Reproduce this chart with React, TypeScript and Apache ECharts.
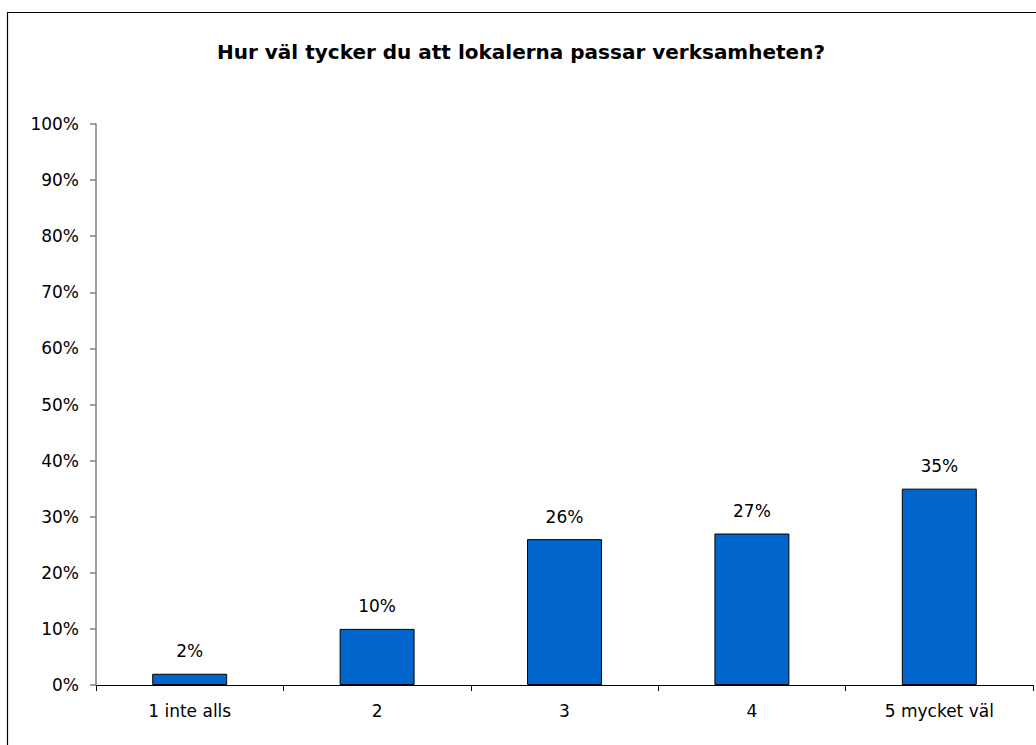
import React, { useEffect, useRef } from "react";
import * as echarts from "echarts";

const title = "Hur väl tycker du att lokalerna passar verksamheten?";
const categories = ["1 inte alls", "2", "3", "4", "5 mycket väl"];
const values = [2, 10, 26, 27, 35];
const yTicks = [0, 10, 20, 30, 40, 50, 60, 70, 80, 90, 100];

export default function App() {
  const ref = useRef<HTMLDivElement>(null);
  useEffect(() => {
    document.body.style.margin = "0";
    const chart = echarts.init(ref.current!, undefined, { renderer: "svg" });
    const font = "DejaVu Sans, sans-serif";
    chart.setOption({
      animation: false,
      backgroundColor: "#ffffff",
      textStyle: { fontFamily: font },
      title: {
        text: title,
        left: 516,
        top: 37,
        textAlign: "center",
        textStyle: { fontFamily: font, fontSize: 20, fontWeight: "bold", color: "#000" },
      },
      graphic: [
        {
          type: "rect",
          shape: { x: 7.5, y: 12.5, width: 1100, height: 800 },
          style: { fill: "none", stroke: "#000", lineWidth: 1.2 },
          silent: true,
        },
      ],
      grid: { left: 96, top: 124, right: 3, bottom: 60, containLabel: false },
      xAxis: {
        type: "category",
        data: categories,
        boundaryGap: true,
        axisLine: { lineStyle: { color: "#000", width: 1 } },
        axisTick: { show: true, inside: false, length: 6, lineStyle: { color: "#000" } },
        axisLabel: { color: "#000", fontSize: 17, margin: 17, fontFamily: font },
      },
      yAxis: {
        type: "value",
        min: yTicks[0],
        max: yTicks[yTicks.length - 1],
        interval: 10,
        axisLine: { show: true, lineStyle: { color: "#808080", width: 1.5 } },
        axisTick: { show: true, length: 6, lineStyle: { color: "#808080", width: 1.5 } },
        splitLine: { show: false },
        axisLabel: { color: "#000", fontSize: 17, margin: 17, formatter: "{value}%", fontFamily: font },
      },
      series: [
        {
          type: "bar",
          data: values,
          barWidth: "40%",
          itemStyle: { color: "#0066CC", borderColor: "#000", borderWidth: 1 },
          label: {
            show: true,
            position: "top",
            distance: 14,
            formatter: "{c}%",
            color: "#000",
            fontSize: 17,
            fontFamily: font,
          },
        },
      ],
    });
    return () => chart.dispose();
  }, []);
  return <div ref={ref} style={{ width: 1036, height: 745 }} />;
}
